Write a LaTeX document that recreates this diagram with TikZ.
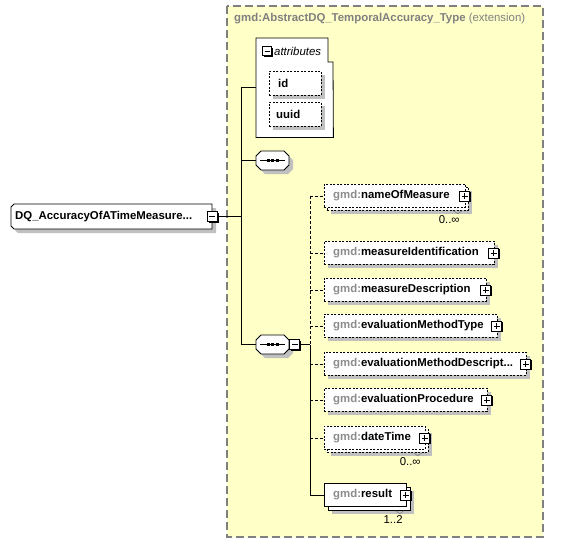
\documentclass[tikz,border=0pt]{standalone}
\usepackage{fontspec}
\setmainfont{Liberation Sans}
\usetikzlibrary{shadows}
\definecolor{bgyellow}{RGB}{255,255,200}
\definecolor{shadowgray}{RGB}{192,192,192}
\definecolor{nsgray}{RGB}{140,140,140}
\definecolor{borderg}{RGB}{128,128,128}
\newcommand\octshape[6]{% name, x, y, w, h, chamfer
  \fill[shadowgray] (#2+4+#6,#3+4) -- (#2+4+#4-#6,#3+4) -- (#2+4+#4,#3+4+#6) -- (#2+4+#4,#3+4+#5-#6) -- (#2+4+#4-#6,#3+4+#5) -- (#2+4+#6,#3+4+#5) -- (#2+4,#3+4+#5-#6) -- (#2+4,#3+4+#6) -- cycle;
  \draw[line width=0.8pt, fill=white] (#2+#6,#3) -- (#2+#4-#6,#3) -- (#2+#4,#3+#6) -- (#2+#4,#3+#5-#6) -- (#2+#4-#6,#3+#5) -- (#2+#6,#3+#5) -- (#2,#3+#5-#6) -- (#2,#3+#6) -- cycle;
  \node[draw=none, inner sep=0pt, minimum width=#4pt, minimum height=#5pt, anchor=north west] (#1) at (#2,#3) {};
}
\begin{document}
\begin{tikzpicture}[x=1pt,y=-1pt,
  every node/.style={font=\fontsize{11.4}{14}\selectfont\bfseries},
  shad/.style={drop shadow={shadow xshift=4pt,shadow yshift=-4pt,fill=shadowgray,opacity=1}},
  elem/.style={draw=black, fill=white, line width=0.8pt, minimum height=23pt, inner sep=0pt, anchor=north west},
  optl/.style={dash pattern=on 2pt off 1.5pt},
  pm/.style={draw=black, fill=white, minimum size=10pt, inner sep=0pt, line width=0.8pt,
     drop shadow={shadow xshift=1.3pt,shadow yshift=-1.3pt,fill=black,opacity=1}},
  minusbox/.style={pm, path picture={\draw[line width=0.8pt] ([xshift=2pt]path picture bounding box.west) -- ([xshift=-2pt]path picture bounding box.east);}},
  plusbox/.style={pm, path picture={\draw[line width=0.8pt] ([xshift=2pt]path picture bounding box.west) -- ([xshift=-2pt]path picture bounding box.east);
      \draw[line width=0.8pt] ([yshift=-2pt]path picture bounding box.north) -- ([yshift=2pt]path picture bounding box.south);}},
  lbl/.style={anchor=west, inner sep=0pt},
  mult/.style={anchor=north east, inner sep=0pt, font=\fontsize{11.4}{14}\selectfont},
  conn/.style={line width=0.8pt},
  optconn/.style={conn, dash pattern=on 3pt off 2pt},
]
\useasboundingbox (0,0) rectangle (571,544);
% yellow extension area
\draw[fill=bgyellow, draw=borderg, line width=1.2pt, dash pattern=on 8pt off 4pt] (227,6) rectangle (543,537);
\node[anchor=west, inner sep=0pt, text=borderg] (title) at (234,19) {gmd:AbstractDQ\_TemporalAccuracy\_Type \mdseries(extension)};

% main node (left corners chamfered)
\fill[shadowgray] (18,208) -- (216,208) -- (216,233) -- (18,233) -- (15,230) -- (15,211) -- cycle;
\draw[line width=0.8pt, fill=white] (14,204) -- (212,204) -- (212,229) -- (14,229) -- (11,226) -- (11,207) -- cycle;
\node[draw=none, minimum width=201pt, minimum height=25pt, inner sep=0pt, anchor=north west] (main) at (11,204) {};
\node[lbl] (mainlbl) at ([xshift=4pt]main.west) {DQ\_AccuracyOfATimeMeasure...};
\node[minusbox] (mainpm) at (main.east) {};

% trunk coordinates
\coordinate (tk) at (241,0);
\coordinate (tk2) at (310,0);

% attributes group
\node[draw=none, minimum width=77pt, minimum height=99pt, inner sep=0pt, anchor=north west] (attrs) at (256,38) {};
\draw[line width=0.8pt, fill=white] (attrs.north west) -- ++(72,0) -- ++(0,24) -- ++(5,0) -- (attrs.south east) -- (attrs.south west) -- cycle;
\node[minusbox, minimum size=9pt] (attrpm) at (267,51) {};
\node[lbl, font=\fontsize{11.4}{14}\selectfont\itshape] (attrlbl) at (274,51) {attributes};
\node[elem, optl, minimum width=52pt, minimum height=24pt, shad] (id) at (269,71) {};
\node[lbl] at ([xshift=9pt]id.west) {id};
\node[elem, optl, minimum width=52pt, minimum height=24pt, shad] (uuid) at (269,102) {};
\node[lbl] at ([xshift=7pt]uuid.west) {uuid};

% sequences
\octshape{seq1}{256}{151}{33}{19}{5}
\octshape{seq2}{256}{335}{33}{19}{5}
\foreach \s in {seq1,seq2}{
  \draw[line width=0.8pt] ([xshift=4pt]\s.west) -- ([xshift=-4pt]\s.east);
  \foreach \dx in {-4.5,0,4.5}
    \fill ([xshift=\dx pt]\s.center) +(-1.6,-1.6) rectangle +(1.6,1.6);
}
\node[minusbox, anchor=west] (seq2pm) at (seq2.east) {};

% nameOfMeasure (multiple)
\node[elem, optl, minimum width=141pt, shad] (nomb) at (327,187) {};
\node[elem, optl, minimum width=141pt] (nom) at (324,184) {};
\node[lbl] at ([xshift=9pt]nom.west) {\textcolor{nsgray}{gmd:}nameOfMeasure};
\node[plusbox] (nompm) at ([xshift=-1pt]nom.east) {};
\draw[line width=0.6pt, draw=borderg] ([xshift=-15pt]nomb.south east) -- ++(4,3) -- ++(4,-3);
\node[mult] at ([xshift=-9pt,yshift=-5pt]nomb.south east) {0..∞};

\node[elem, optl, minimum width=170pt, shad] (mid) at (324,241) {};
\node[lbl] at ([xshift=9pt]mid.west) {\textcolor{nsgray}{gmd:}measureIdentification};
\node[plusbox] (midpm) at ([xshift=-1pt]mid.east) {};

\node[elem, optl, minimum width=162pt, shad] (mdesc) at (324,278) {};
\node[lbl] at ([xshift=9pt]mdesc.west) {\textcolor{nsgray}{gmd:}measureDescription};
\node[plusbox] (mdescpm) at ([xshift=-1pt]mdesc.east) {};

\node[elem, optl, minimum width=173pt, shad] (emt) at (324,314) {};
\node[lbl] at ([xshift=9pt]emt.west) {\textcolor{nsgray}{gmd:}evaluationMethodType};
\node[plusbox] (emtpm) at ([xshift=-1pt]emt.east) {};

\node[elem, optl, minimum width=202pt, shad] (emd) at (324,352) {};
\node[lbl] at ([xshift=9pt]emd.west) {\textcolor{nsgray}{gmd:}evaluationMethodDescript...};
\node[plusbox] (emdpm) at ([xshift=-1pt]emd.east) {};

\node[elem, optl, minimum width=163pt, shad] (ep) at (324,388) {};
\node[lbl] at ([xshift=9pt]ep.west) {\textcolor{nsgray}{gmd:}evaluationProcedure};
\node[plusbox] (eppm) at ([xshift=-1pt]ep.east) {};

% dateTime (multiple)
\node[elem, optl, minimum width=101pt, shad] (dtb) at (327,429) {};
\node[elem, optl, minimum width=101pt] (dt) at (324,426) {};
\node[lbl] at ([xshift=9pt]dt.west) {\textcolor{nsgray}{gmd:}dateTime};
\node[plusbox] (dtpm) at ([xshift=-1pt]dt.east) {};
\draw[line width=0.6pt, draw=borderg] ([xshift=-15pt]dtb.south east) -- ++(4,3) -- ++(4,-3);
\node[mult] at ([xshift=-8pt,yshift=-5pt]dtb.south east) {0..∞};

% result (multiple, mandatory)
\node[elem, minimum width=82pt, shad] (resb) at (328,487) {};
\node[elem, minimum width=82pt] (res) at (324,483) {};
\node[lbl] at ([xshift=9pt]res.west) {\textcolor{nsgray}{gmd:}result};
\node[plusbox] (respm) at ([xshift=-1pt]res.east) {};
\draw[line width=0.6pt, draw=borderg] ([xshift=-15pt]resb.south east) -- ++(4,3) -- ++(4,-3);
\node[mult] at ([xshift=-8pt,yshift=-5pt]resb.south east) {1..2};

% connectors
\draw[conn] (mainpm.east) -- (mainpm.east -| tk);
\draw[conn] (tk |- attrs.west) -- (tk |- seq2.west);
\draw[conn] (tk |- attrs.west) -- (attrs.west);
\draw[conn] (tk |- seq1.west) -- (seq1.west);
\draw[conn] (tk |- seq2.west) -- (seq2.west);
\draw[conn] (seq2pm.east) -- (seq2pm.east -| tk2);
\draw[optconn] (tk2 |- nom.west) -- (tk2 |- seq2pm.east);
\draw[conn] (tk2 |- seq2pm.east) -- (tk2 |- res.west);
\foreach \e in {nom,mid,mdesc,emt,emd,ep,dt}
  \draw[optconn] (tk2 |- \e.west) -- (\e.west);
\draw[conn] (tk2 |- res.west) -- (res.west);
\end{tikzpicture}
\end{document}
